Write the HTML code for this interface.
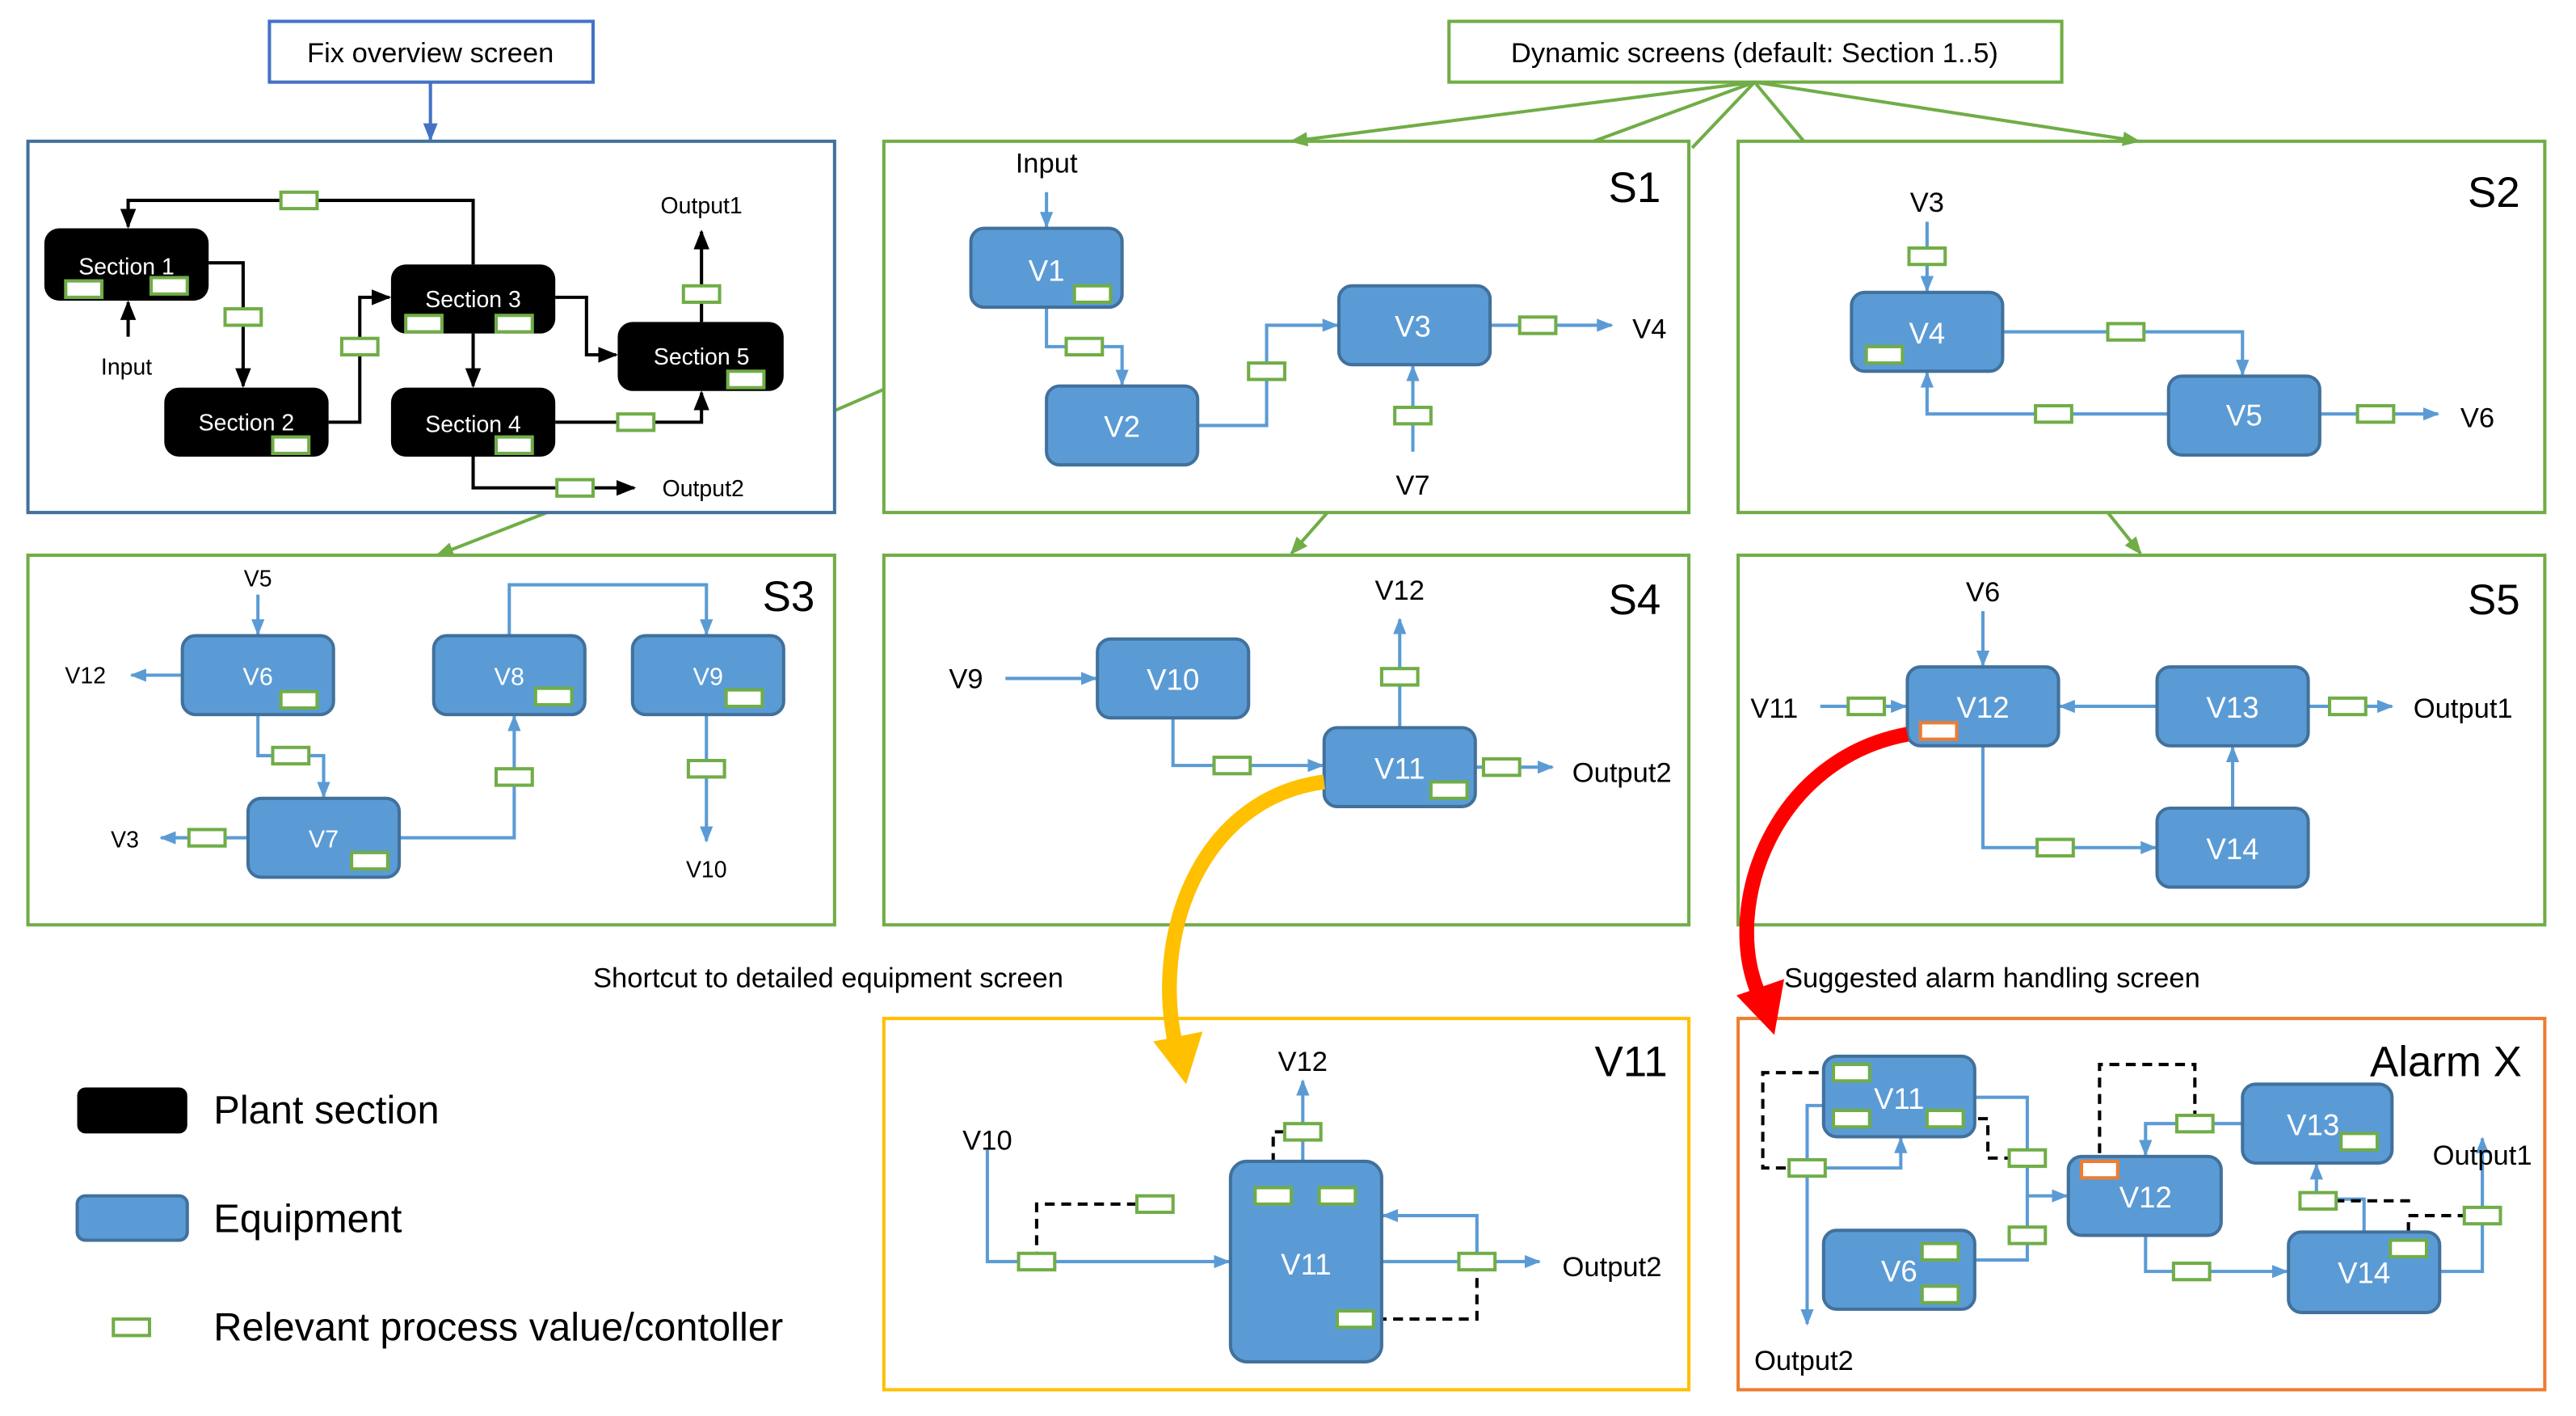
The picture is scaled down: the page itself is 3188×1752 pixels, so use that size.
<!DOCTYPE html>
<html><head><meta charset="utf-8"><style>
html,body{margin:0;padding:0;background:#fff;}
svg{display:block;}
text{font-family:"Liberation Sans","DejaVu Sans",sans-serif;}
</style></head><body>
<svg width="3188" height="1752" viewBox="0 0 1568 862" preserveAspectRatio="none" xmlns="http://www.w3.org/2000/svg">
<defs>
<marker id="ab" viewBox="0 0 10 10" refX="9" refY="5" markerWidth="10" markerHeight="10" orient="auto" markerUnits="userSpaceOnUse"><path d="M0,1L10,5L0,9z" fill="#5b9bd5"/></marker>
<marker id="ak" viewBox="0 0 10 10" refX="9" refY="5" markerWidth="12" markerHeight="12" orient="auto" markerUnits="userSpaceOnUse"><path d="M0,1L10,5L0,9z" fill="#000"/></marker>
<marker id="ag" viewBox="0 0 10 10" refX="9" refY="5" markerWidth="11" markerHeight="11" orient="auto" markerUnits="userSpaceOnUse"><path d="M0,1L10,5L0,9z" fill="#70ad47"/></marker>
<marker id="abl" viewBox="0 0 10 10" refX="9" refY="5" markerWidth="11" markerHeight="11" orient="auto" markerUnits="userSpaceOnUse"><path d="M0,1L10,5L0,9z" fill="#4472c4"/></marker>
</defs>

<rect x="164" y="13" width="197" height="37" fill="#fff" stroke="#4472c4" stroke-width="2"/>
<text x="262" y="38" font-size="17" text-anchor="middle">Fix overview screen</text>
<line x1="262" y1="50" x2="262" y2="85" stroke="#4472c4" stroke-width="2" marker-end="url(#abl)"/>
<rect x="882" y="13" width="373" height="37" fill="#fff" stroke="#70ad47" stroke-width="2"/>
<text x="1068" y="38" font-size="17" text-anchor="middle">Dynamic screens (default: Section 1..5)</text>
<g stroke="#70ad47" stroke-width="2" fill="none">
<line x1="1068" y1="50" x2="786" y2="86" marker-end="url(#ag)"/>
<line x1="1068" y1="50" x2="970" y2="86"/>
<line x1="1068" y1="50" x2="1030" y2="90"/>
<line x1="1068" y1="50" x2="1098" y2="86"/>
<line x1="1068" y1="50" x2="1302" y2="86" marker-end="url(#ag)"/>
<line x1="508" y1="250" x2="538" y2="237"/>
<line x1="333" y1="312" x2="266" y2="338" marker-end="url(#ag)"/>
<line x1="808" y1="312" x2="786" y2="337" marker-end="url(#ag)"/>
<line x1="1283" y1="312" x2="1303" y2="337" marker-end="url(#ag)"/>
</g>

<rect x="17" y="86" width="491" height="226" fill="none" stroke="#41719c" stroke-width="2"/>
<g fill="none" stroke="#70ad47" stroke-width="2">
<rect x="538" y="86" width="490" height="226"/>
<rect x="1058" y="86" width="491" height="226"/>
<rect x="17" y="338" width="491" height="225"/>
<rect x="538" y="338" width="490" height="225"/>
<rect x="1058" y="338" width="491" height="225"/>
</g>
<rect x="538" y="620" width="490" height="226" fill="none" stroke="#ffc000" stroke-width="2"/>
<rect x="1058" y="620" width="491" height="226" fill="none" stroke="#ed7d31" stroke-width="2"/>

<g stroke="#000" stroke-width="2" fill="none">
<polyline points="288,161 288,122 78,122 78,138" marker-end="url(#ak)"/>
<polyline points="127,160 148,160 148,235" marker-end="url(#ak)"/>
<line x1="78" y1="205" x2="78" y2="184" marker-end="url(#ak)"/>
<polyline points="200,257 219,257 219,181 237,181" marker-end="url(#ak)"/>
<polyline points="338,181 357,181 357,216 375,216" marker-end="url(#ak)"/>
<line x1="288" y1="203" x2="288" y2="235" marker-end="url(#ak)"/>
<polyline points="338,257 427,257 427,239" marker-end="url(#ak)"/>
<polyline points="288,278 288,297 386,297" marker-end="url(#ak)"/>
<line x1="427" y1="196" x2="427" y2="141" marker-end="url(#ak)"/>
</g>
<g fill="#000">
<rect x="27" y="139" width="100" height="44" rx="9"/>
<rect x="100" y="236" width="100" height="42" rx="9"/>
<rect x="238" y="161" width="100" height="42" rx="9"/>
<rect x="238" y="236" width="100" height="42" rx="9"/>
<rect x="376" y="196" width="101" height="42" rx="9"/>
</g>
<g fill="#fff" font-size="14" text-anchor="middle">
<text x="77" y="167">Section 1</text>
<text x="150" y="262">Section 2</text>
<text x="288" y="187">Section 3</text>
<text x="288" y="263">Section 4</text>
<text x="427" y="222">Section 5</text>
</g>
<g font-size="14" text-anchor="middle">
<text x="77" y="228">Input</text>
<text x="427" y="130">Output1</text>
<text x="428" y="302">Output2</text>
</g>

<g font-size="26" text-anchor="middle"><text x="995" y="123">S1</text><text x="1518" y="126">S2</text><text x="480" y="372">S3</text><text x="995" y="374">S4</text><text x="1518" y="374">S5</text></g>
<g stroke="#5b9bd5" stroke-width="2" fill="none">
<line x1="637" y1="117" x2="637" y2="138" marker-end="url(#ab)"/>
<polyline points="637,187 637,211 683,211 683,234" marker-end="url(#ab)"/>
<polyline points="729,259 771,259 771,198 814,198" marker-end="url(#ab)"/>
<line x1="907" y1="198" x2="981" y2="198" marker-end="url(#ab)"/>
<line x1="860" y1="275" x2="860" y2="223" marker-end="url(#ab)"/>
<line x1="1173" y1="135" x2="1173" y2="177" marker-end="url(#ab)"/>
<polyline points="1219,202 1365,202 1365,228" marker-end="url(#ab)"/>
<polyline points="1320,252 1173,252 1173,227" marker-end="url(#ab)"/>
<line x1="1412" y1="252" x2="1484" y2="252" marker-end="url(#ab)"/>
<line x1="157" y1="362" x2="157" y2="386" marker-end="url(#ab)"/>
<line x1="111" y1="411" x2="80" y2="411" marker-end="url(#ab)"/>
<polyline points="157,435 157,460 197,460 197,485" marker-end="url(#ab)"/>
<line x1="151" y1="510" x2="98" y2="510" marker-end="url(#ab)"/>
<polyline points="243,510 313,510 313,436" marker-end="url(#ab)"/>
<polyline points="310,387 310,356 430,356 430,386" marker-end="url(#ab)"/>
<line x1="430" y1="435" x2="430" y2="512" marker-end="url(#ab)"/>
<line x1="612" y1="413" x2="667" y2="413" marker-end="url(#ab)"/>
<polyline points="714,437 714,466 805,466" marker-end="url(#ab)"/>
<line x1="852" y1="443" x2="852" y2="377" marker-end="url(#ab)"/>
<line x1="898" y1="467" x2="945" y2="467" marker-end="url(#ab)"/>
<line x1="1207" y1="372" x2="1207" y2="405" marker-end="url(#ab)"/>
<line x1="1108" y1="430" x2="1160" y2="430" marker-end="url(#ab)"/>
<line x1="1313" y1="430" x2="1254" y2="430" marker-end="url(#ab)"/>
<line x1="1405" y1="430" x2="1456" y2="430" marker-end="url(#ab)"/>
<polyline points="1207,454 1207,516 1312,516" marker-end="url(#ab)"/>
<line x1="1359" y1="492" x2="1359" y2="455" marker-end="url(#ab)"/>
<line x1="793" y1="707" x2="793" y2="658" marker-end="url(#ab)"/>
<polyline points="601,700 601,768 748,768" marker-end="url(#ab)"/>
<line x1="841" y1="768" x2="937" y2="768" marker-end="url(#ab)"/>
<polyline points="899,768 899,740 842,740" marker-end="url(#ab)"/>
<polyline points="1110,673 1100,673 1100,806" marker-end="url(#ab)"/>
<polyline points="1100,711 1157,711 1157,693" marker-end="url(#ab)"/>
<polyline points="1202,668 1234,668 1234,767 1202,767"/>
<line x1="1234" y1="728" x2="1258" y2="728" marker-end="url(#ab)"/>
<polyline points="1365,684 1306,684 1306,703" marker-end="url(#ab)"/>
<polyline points="1306,752 1306,774 1392,774" marker-end="url(#ab)"/>
<polyline points="1439,750 1439,730 1410,730 1410,709" marker-end="url(#ab)"/>
<polyline points="1485,774 1511,774 1511,693" marker-end="url(#ab)"/>
</g>

<g stroke="#000" stroke-width="2" fill="none" stroke-dasharray="6,4">
<polyline points="775,728 775,689 793,689"/>
<polyline points="631,768 631,733 692,733"/>
<polyline points="899,768 899,803 838,803"/>
<polyline points="1127,653 1073,653 1073,711 1100,711"/>
<polyline points="1184,681 1210,681 1210,705 1234,705"/>
<polyline points="1278,712 1278,648 1336,648 1336,684"/>
<polyline points="1411,731 1468,731"/>
<polyline points="1466,760 1466,740 1511,740"/>
</g>

<g fill="#5b9bd5" stroke="#41719c" stroke-width="2">
<rect x="591" y="139" width="92" height="48" rx="8"/>
<rect x="637" y="235" width="92" height="48" rx="8"/>
<rect x="815" y="174" width="92" height="48" rx="8"/>
<rect x="1127" y="178" width="92" height="48" rx="8"/>
<rect x="1320" y="229" width="92" height="48" rx="8"/>
<rect x="111" y="387" width="92" height="48" rx="8"/>
<rect x="151" y="486" width="92" height="48" rx="8"/>
<rect x="264" y="387" width="92" height="48" rx="8"/>
<rect x="385" y="387" width="92" height="48" rx="8"/>
<rect x="668" y="389" width="92" height="48" rx="8"/>
<rect x="806" y="443" width="92" height="48" rx="8"/>
<rect x="1161" y="406" width="92" height="48" rx="8"/>
<rect x="1313" y="406" width="92" height="48" rx="8"/>
<rect x="1313" y="492" width="92" height="48" rx="8"/>
<rect x="749" y="707" width="92" height="122" rx="10"/>
<rect x="1110" y="643" width="92" height="49" rx="8"/>
<rect x="1110" y="749" width="92" height="48" rx="8"/>
<rect x="1259" y="704" width="93" height="48" rx="8"/>
<rect x="1365" y="660" width="91" height="48" rx="8"/>
<rect x="1393" y="750" width="92" height="49" rx="8"/>
<rect x="47" y="728" width="67" height="27" rx="5"/>
</g>
<rect x="47" y="662" width="67" height="28" rx="5" fill="#000"/>
<g fill="#fff" font-size="18" text-anchor="middle">
<text x="637" y="171">V1</text><text x="683" y="266">V2</text><text x="860" y="205">V3</text>
<text x="1173" y="209">V4</text><text x="1366" y="259">V5</text>
<text x="157" y="417" font-size="15">V6</text><text x="197" y="516" font-size="15">V7</text><text x="310" y="417" font-size="15">V8</text><text x="431" y="417" font-size="15">V9</text>
<text x="714" y="420">V10</text><text x="852" y="474">V11</text>
<text x="1207" y="437">V12</text><text x="1359" y="437">V13</text><text x="1359" y="523">V14</text>
<text x="795" y="776">V11</text>
<text x="1156" y="675">V11</text><text x="1156" y="780">V6</text><text x="1306" y="735">V12</text><text x="1408" y="691">V13</text><text x="1439" y="781">V14</text>
</g>

<g font-size="17" text-anchor="middle">
<text x="637" y="105">Input</text><text x="1004" y="206">V4</text><text x="860" y="301">V7</text>
<text x="1173" y="129">V3</text><text x="1508" y="260">V6</text>
<text x="157" y="357" font-size="14">V5</text><text x="52" y="416" font-size="14">V12</text><text x="76" y="516" font-size="14">V3</text><text x="430" y="534" font-size="14">V10</text>
<text x="588" y="419">V9</text><text x="852" y="365">V12</text>
<text x="1207" y="366">V6</text><text x="1080" y="437">V11</text>
<text x="793" y="652">V12</text><text x="601" y="700">V10</text>
<text x="1098" y="834">Output2</text><text x="1511" y="709">Output1</text>
</g>
<g font-size="17">
<text x="957" y="476">Output2</text><text x="1469" y="437">Output1</text><text x="951" y="777">Output2</text>
<text x="361" y="601">Shortcut to detailed equipment screen</text>
<text x="1086" y="601">Suggested alarm handling screen</text>
</g>
<g font-size="26" text-anchor="end"><text x="1015" y="655">V11</text><text x="1535" y="655">Alarm X</text></g>
<g font-size="24"><text x="130" y="684">Plant section</text><text x="130" y="750">Equipment</text><text x="130" y="816">Relevant process value/contoller</text></g>

<g fill="#fff" stroke="#70ad47" stroke-width="2">
<rect x="40" y="171" width="22" height="10"/><rect x="92" y="169" width="22" height="10"/>
<rect x="171" y="117" width="22" height="10"/><rect x="137" y="188" width="22" height="10"/>
<rect x="166" y="266" width="22" height="10"/><rect x="208" y="206" width="22" height="10"/>
<rect x="247" y="192" width="22" height="10"/><rect x="302" y="192" width="22" height="10"/>
<rect x="302" y="266" width="22" height="10"/><rect x="376" y="252" width="22" height="10"/>
<rect x="339" y="292" width="22" height="10"/><rect x="443" y="226" width="22" height="10"/>
<rect x="416" y="174" width="22" height="10"/>
<rect x="654" y="174" width="22" height="10"/><rect x="649" y="206" width="22" height="10"/>
<rect x="760" y="221" width="22" height="10"/><rect x="925" y="193" width="22" height="10"/>
<rect x="849" y="248" width="22" height="10"/>
<rect x="1162" y="151" width="22" height="10"/><rect x="1136" y="211" width="22" height="10"/>
<rect x="1283" y="197" width="22" height="10"/><rect x="1239" y="247" width="22" height="10"/>
<rect x="1435" y="247" width="22" height="10"/>
<rect x="171" y="421" width="22" height="10"/><rect x="166" y="455" width="22" height="10"/>
<rect x="214" y="519" width="22" height="10"/><rect x="115" y="505" width="22" height="10"/>
<rect x="302" y="468" width="22" height="10"/><rect x="326" y="419" width="22" height="10"/>
<rect x="442" y="420" width="22" height="10"/><rect x="419" y="463" width="22" height="10"/>
<rect x="739" y="461" width="22" height="10"/><rect x="871" y="476" width="22" height="10"/>
<rect x="841" y="407" width="22" height="10"/><rect x="903" y="462" width="22" height="10"/>
<rect x="1125" y="425" width="22" height="10"/><rect x="1418" y="425" width="22" height="10"/>
<rect x="1240" y="511" width="22" height="10"/>
<rect x="764" y="723" width="22" height="10"/><rect x="803" y="723" width="22" height="10"/>
<rect x="814" y="798" width="22" height="10"/><rect x="782" y="684" width="22" height="10"/>
<rect x="620" y="763" width="22" height="10"/><rect x="692" y="728" width="22" height="10"/>
<rect x="888" y="763" width="22" height="10"/>
<rect x="1116" y="648" width="22" height="10"/><rect x="1116" y="676" width="22" height="10"/>
<rect x="1173" y="676" width="22" height="10"/><rect x="1089" y="706" width="22" height="10"/>
<rect x="1223" y="700" width="22" height="10"/><rect x="1223" y="747" width="22" height="10"/>
<rect x="1170" y="757" width="22" height="10"/><rect x="1170" y="783" width="22" height="10"/>
<rect x="1325" y="679" width="22" height="10"/><rect x="1425" y="690" width="22" height="10"/>
<rect x="1323" y="769" width="22" height="10"/><rect x="1400" y="726" width="22" height="10"/>
<rect x="1455" y="755" width="22" height="10"/><rect x="1500" y="735" width="22" height="10"/>
<rect x="69" y="803" width="22" height="10"/>
</g>
<g fill="#fff" stroke="#ed7d31" stroke-width="2">
<rect x="1169" y="440" width="22" height="10"/><rect x="1267" y="707" width="22" height="10"/>
</g>

<path d="M806,476 C730,486 700,570 716,638" fill="none" stroke="#ffc000" stroke-width="9"/>
<path d="M702,634 L732,628 L722,660 Z" fill="#ffc000"/>
<path d="M1161,447 C1080,462 1048,550 1070,604" fill="none" stroke="#ff0000" stroke-width="9"/>
<path d="M1057,606 L1086,596 L1080,630 Z" fill="#ff0000"/>
</svg>
</body></html>
